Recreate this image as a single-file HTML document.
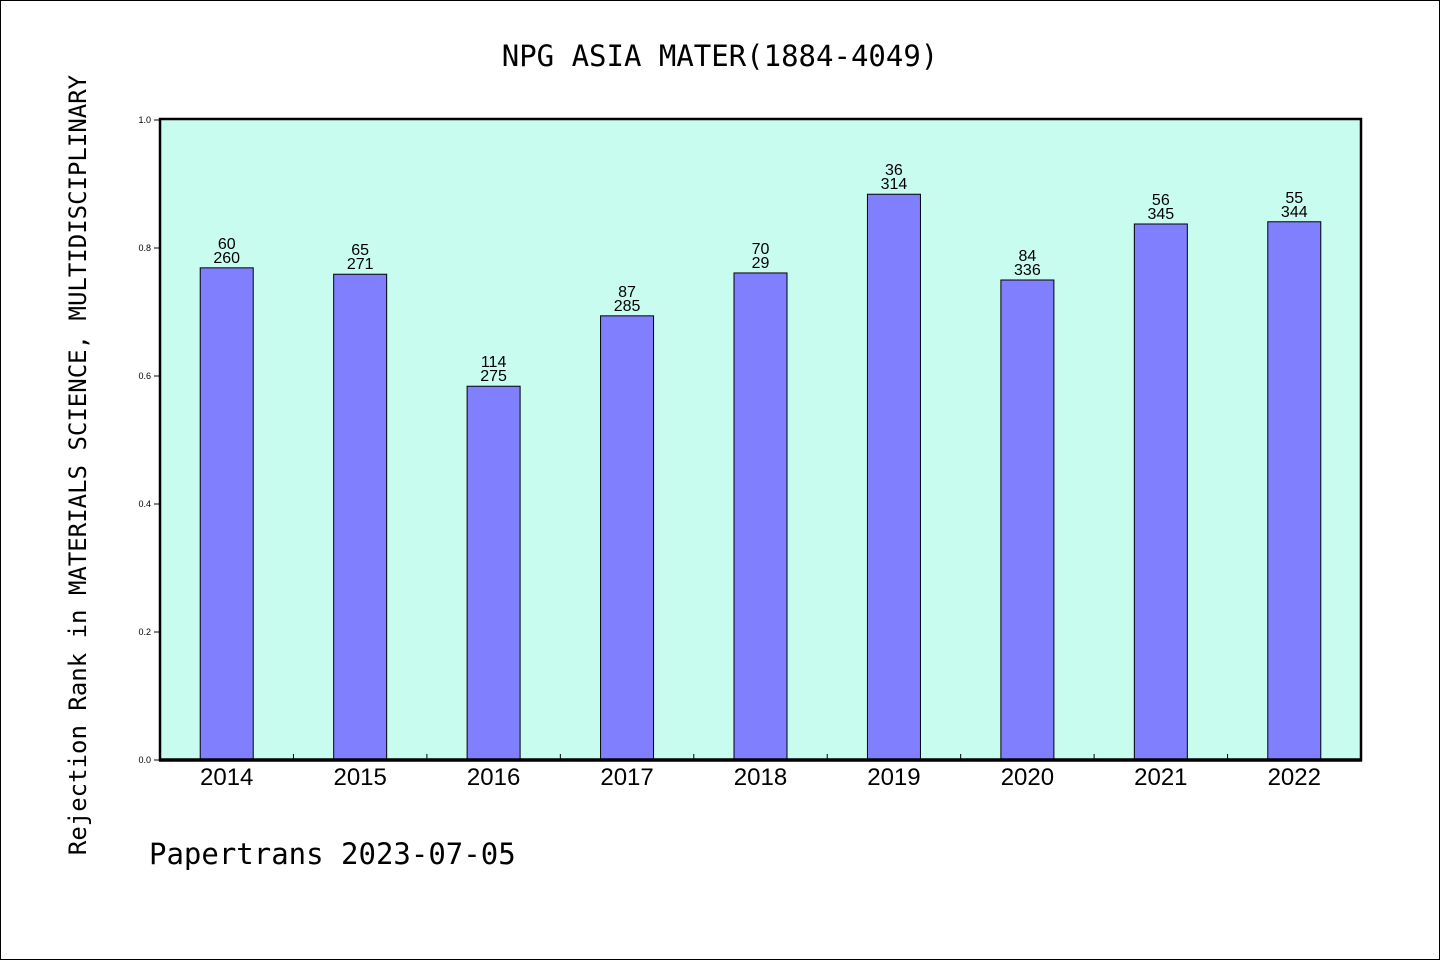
<!DOCTYPE html>
<html><head><meta charset="utf-8"><style>
body{margin:0;background:#fff}
svg{display:block;font-family:"Liberation Sans","DejaVu Sans",sans-serif}
</style></head><body>
<svg id="chart" width="1440" height="960" viewBox="0 0 1440 960">
<rect x="0.5" y="0.5" width="1439" height="959" fill="#fff" stroke="#000" stroke-width="1"/>
<text x="720" y="66" font-size="29" text-anchor="middle" font-family="DejaVu Sans Mono, Liberation Mono, monospace">NPG ASIA MATER(1884-4049)</text>
<rect x="160" y="119" width="1201" height="641" fill="#c8fcee"/>
<g id="bars"></g>
<g id="yaxis"></g>
<g id="xaxis"></g>
<rect x="160" y="119" width="1201" height="641" fill="none" stroke="#000" stroke-width="2.5"/>
<line x1="159" y1="760" x2="1362" y2="760" stroke="#000" stroke-width="3.5"/>
<text transform="translate(86,465) rotate(-90)" font-size="24" text-anchor="middle" font-family="DejaVu Sans Mono, Liberation Mono, monospace">Rejection Rank in MATERIALS SCIENCE, MULTIDISCIPLINARY</text>
<text x="149" y="864" font-size="29" font-family="DejaVu Sans Mono, Liberation Mono, monospace">Papertrans 2023-07-05</text>
</svg>
<script>
const categories=["2014","2015","2016","2017","2018","2019","2020","2021","2022"];
const values=[0.769,0.759,0.584,0.694,0.761,0.884,0.75,0.8375,0.841];
const rankLabels=["60","65","114","87","70","36","84","56","55"];
const totalLabels=["260","271","275","285","29","314","336","345","344"];
const yTicks=[0,0.2,0.4,0.6,0.8,1.0];
const ns="http://www.w3.org/2000/svg";
const X0=160,X1=1361,Y0=760,Y1=120;
const band=(X1-X0)/categories.length;
const xc=i=>X0+band*(i+0.5);
const ys=v=>Y0-(Y1<Y0?(Y0-Y1):0)*v;
function mk(t,a,p){const e=document.createElementNS(ns,t);for(const k in a)e.setAttribute(k,a[k]);p.appendChild(e);return e;}
const gb=document.getElementById('bars'),gy=document.getElementById('yaxis'),gx=document.getElementById('xaxis');
categories.forEach((c,i)=>{
  const w=53,y=ys(values[i]);
  const r=mk('rect',{x:xc(i)-w/2,y:y,width:w,height:Y0-y,fill:'#8080ff',stroke:'#000','stroke-width':1},gb);
  
  
  const t1=mk('text',{x:xc(i),y:y-19,'font-size':16,'text-anchor':'middle'},gb);
  t1.textContent=rankLabels[i];
  
  
  const t2=mk('text',{x:xc(i),y:y-5,'font-size':16,'text-anchor':'middle'},gb);
  t2.textContent=totalLabels[i];
  
  
  const xl=mk('text',{x:xc(i),y:785,'font-size':24,'text-anchor':'middle'},gx);
  xl.textContent=c;
  
  
  if(i>0){const tk=mk('line',{x1:X0+band*i,x2:X0+band*i,y1:Y0,y2:Y0-6,stroke:'#000','stroke-width':1},gx);
  
  }
});
yTicks.forEach(v=>{
  const y=ys(v);
  const l=mk('line',{x1:X0-6,x2:X0,y1:y,y2:y,stroke:'#000','stroke-width':1},gy);
  
  
  const t=mk('text',{x:X0-9,y:y+3,'font-size':9,'text-anchor':'end'},gy);
  t.textContent=v.toFixed(1);
  
  
});
</script>
</body></html>
